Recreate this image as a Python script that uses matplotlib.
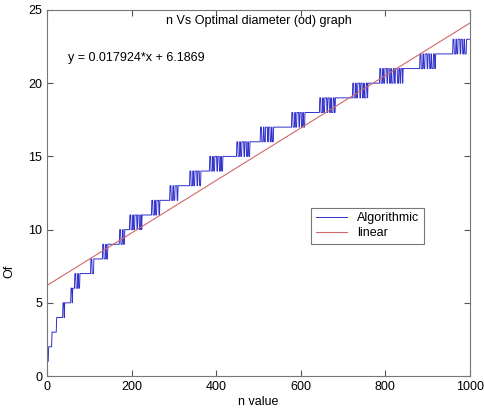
import numpy as np
import matplotlib.pyplot as plt

plt.rcParams['font.family'] = ['Liberation Sans', 'DejaVu Sans']

# n values and optimal diameter levels
n = np.arange(1, 1001)
levels = list(range(1, 24))
# n range of each flicker burst between level k and k+1
burst_start = [4, 12, 23, 38, 57, 66, 104, 132, 172, 196, 248, 291, 338,
               385, 449, 505, 579, 645, 723, 787, 882, 960]
burst_end = [6, 14, 26, 42, 61, 83, 113, 145, 184, 225, 267, 314, 366,
             416, 480, 536, 610, 686, 759, 842, 924, 995]
# up/down pattern seen inside the bursts (1 = upper level)
flicker = [1, 1, 1, 0, 0, 0, 0, 1, 1, 0, 0, 0, 1, 1, 1, 1, 1, 0, 0,
           1, 1, 1, 1, 0, 0, 0, 1, 1, 0, 0, 0, 0, 1, 1, 1, 0, 0, 1,
           1, 1, 1, 1, 0, 0, 0, 1, 1, 1, 0, 0, 1, 1, 1, 1, 0, 0]

# linear fit
slope = 0.017924
intercept = 6.1869

od = np.full(len(n), float(levels[0]))
for i in range(len(burst_start)):
    k = levels[i]
    od[n >= burst_start[i]] = k + 1
    inb = (n >= burst_start[i]) & (n < burst_end[i])
    idx = n[inb] - burst_start[i]
    od[inb] = k + np.array([flicker[j % len(flicker)] for j in idx])

x_fit = np.array([0, 1000])
y_fit = slope * x_fit + intercept

fig = plt.figure(figsize=(4.84, 4.16), dpi=100)
ax = fig.add_axes([0.097, 0.096, 0.874, 0.88])
ax.plot(n, od, color='#3030cc', lw=0.7, label='Algorithmic')
ax.plot(x_fit, y_fit, color='#d06868', lw=0.8, label='linear')

ax.set_xlim(0, 1000)
ax.set_ylim(0, 25)
ax.set_xticks([0, 200, 400, 600, 800, 1000])
ax.set_yticks([0, 5, 10, 15, 20, 25])
ax.tick_params(direction='in', top=True, right=True, length=4, labelsize=9,
               color='#555555')
for s in ax.spines.values():
    s.set_color('#777777')

ax.text(0.5, 0.985, 'n Vs Optimal diameter (od) graph', transform=ax.transAxes,
        ha='center', va='top', fontsize=9)
ax.text(0.05, 0.87, 'y = 0.017924*x + 6.1869', transform=ax.transAxes,
        ha='left', va='center', fontsize=9)

ax.set_xlabel('n value', fontsize=9, labelpad=2)
ax.set_ylabel('Of', fontsize=9)
ax.yaxis.set_label_coords(-0.075, 0.285)

leg = ax.legend(loc='upper left', bbox_to_anchor=(0.625, 0.46), fontsize=9,
                fancybox=False, edgecolor='#555555', handlelength=2.5,
                borderpad=0.35, labelspacing=0.25, borderaxespad=0)
leg.get_frame().set_linewidth(0.8)

fig.savefig('out.png', dpi=100)
